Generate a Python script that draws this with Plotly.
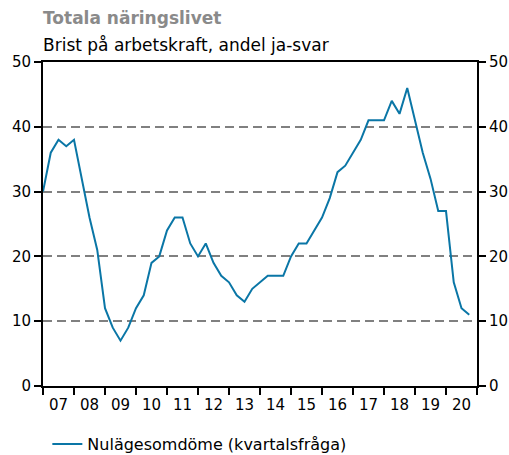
import plotly.graph_objects as go

# Quarterly data 2007 Q1 - 2020 Q4
start_year = 2007
values = [30, 36, 38, 37,
          38, 32, 26, 21,
          12, 9, 7, 9,
          12, 14, 19, 20,
          24, 26, 26, 22,
          20, 22, 19, 17,
          16, 14, 13, 15,
          16, 17, 17, 17,
          20, 22, 22, 24,
          26, 29, 33, 34,
          36, 38, 41, 41,
          41, 44, 42, 46,
          41, 36, 32, 27,
          27, 16, 12, 11]
years = list(range(2007, 2021))
year_labels = [f"{y % 100:02d}" for y in years]
y_ticks = [0, 10, 20, 30, 40, 50]

x = [start_year + i / 4 for i in range(len(values))]

FONT = "DejaVu Sans"
LINE = "#0a76a6"

fig = go.Figure()
fig.add_trace(go.Scatter(
    x=x, y=values, mode="lines", name="Nulägesomdöme (kvartalsfråga)",
    line=dict(color=LINE, width=2), xaxis="x", yaxis="y"))
fig.add_trace(go.Scatter(x=[x[0]], y=[values[0]], mode="lines", showlegend=False,
                         hoverinfo="skip", line=dict(width=0), xaxis="x", yaxis="y2"))
fig.add_trace(go.Scatter(x=[2007], y=[0], mode="markers", marker=dict(opacity=0),
                         showlegend=False, hoverinfo="skip", xaxis="x2", yaxis="y"))

fig.update_layout(
    width=509, height=455,
    margin=dict(l=43, r=32, t=62, b=69, autoexpand=False),
    paper_bgcolor="white", plot_bgcolor="white",
    font=dict(family=FONT, size=15, color="black"),
    showlegend=True,
    legend=dict(orientation="h", x=0.01, xanchor="left", y=-0.127, yanchor="top",
                font=dict(size=16, family=FONT), bgcolor="rgba(0,0,0,0)"),
    xaxis=dict(range=[2007, 2021], tickmode="array", tickvals=list(range(2007, 2022)),
               showticklabels=False, ticks="outside", ticklen=7, tickwidth=1.5, tickcolor="black",
               showline=True, linecolor="black", linewidth=2, mirror=True,
               showgrid=False, zeroline=False, automargin=False),
    xaxis2=dict(range=[2007, 2021], overlaying="x", side="bottom", anchor="y",
                tickmode="array", tickvals=[y + 0.5 for y in years], ticktext=year_labels,
                ticks="", ticklabelstandoff=8, showline=False, showgrid=False, zeroline=False,
                automargin=False, tickfont=dict(size=15, family=FONT, color="black")),
    yaxis=dict(range=[0, 50], tickmode="array", tickvals=y_ticks,
               ticks="outside", ticklen=7, tickwidth=1.5, tickcolor="black",
               showline=True, linecolor="black", linewidth=2,
               showgrid=True, gridcolor="#808080", gridwidth=2, griddash="9px,5px",
               zeroline=False, automargin=False, tickfont=dict(size=15, family=FONT)),
    yaxis2=dict(range=[0, 50], overlaying="y", side="right", anchor="x",
                tickmode="array", tickvals=y_ticks,
                ticks="outside", ticklen=7, tickwidth=1.5, tickcolor="black",
                showline=True, linecolor="black", linewidth=2,
                showgrid=False, zeroline=False, automargin=False,
                tickfont=dict(size=15, family=FONT)),
)

fig.add_annotation(text="<b>Totala näringslivet</b>", xref="paper", yref="paper",
                   x=0, y=1, xanchor="left", yanchor="middle", yshift=44, xshift=-2,
                   showarrow=False, font=dict(size=17, color="#8a8a8a", family=FONT))
fig.add_annotation(text="Brist på arbetskraft, andel ja-svar", xref="paper", yref="paper",
                   x=0, y=1, xanchor="left", yanchor="middle", yshift=17, xshift=-2,
                   showarrow=False, font=dict(size=17, color="black", family=FONT))

fig.write_html("out.html", config={"displayModeBar": False},
               post_script="document.body.style.margin='0';")
